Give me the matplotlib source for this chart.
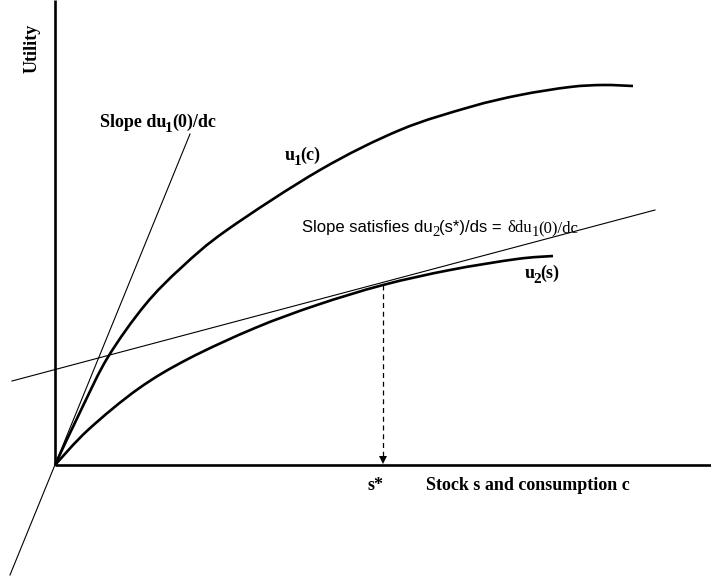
import matplotlib
matplotlib.use("Agg")
import matplotlib.pyplot as plt
from matplotlib.path import Path
from matplotlib.patches import PathPatch
from matplotlib.transforms import offset_copy

# ---- data (origin at the axes corner) ----
u1_x = [0, 27, 53, 90, 127, 172, 265, 345, 415, 465, 515, 548, 578]
u1_y = [0, 57, 108, 160, 198, 235, 295, 335, 358, 370, 378, 380, 379]

u2_x = [0, 33, 83, 133, 200, 262, 328, 395, 462, 498]
u2_y = [0, 35, 76, 106, 137, 160, 180, 195, 206, 209]

slope1_x = [-45, 135]
slope1_y = [-110, 331]

slope2_x = [-43, 600]
slope2_y = [84, 255]

s_star = 328
u2_at_s_star = 180

x_axis_end = 656
y_axis_end = 465

fig = plt.figure(figsize=(7.11, 5.82), dpi=100)
ax = fig.add_axes([0, 0, 1, 1])
ax.set_xlim(-55, 656)
ax.set_ylim(-117, 465)
ax.axis('off')


def smooth_path(xs, ys):
    """Catmull-Rom spline through the given points, drawn as cubic Beziers."""
    pts = list(zip(xs, ys))
    verts = [pts[0]]
    codes = [Path.MOVETO]
    n = len(pts)
    for i in range(n - 1):
        p0 = pts[i - 1] if i > 0 else pts[i]
        p1 = pts[i]
        p2 = pts[i + 1]
        p3 = pts[i + 2] if i + 2 < n else pts[i + 1]
        c1 = (p1[0] + (p2[0] - p0[0]) / 6.0, p1[1] + (p2[1] - p0[1]) / 6.0)
        c2 = (p2[0] - (p3[0] - p1[0]) / 6.0, p2[1] - (p3[1] - p1[1]) / 6.0)
        verts += [c1, c2, p2]
        codes += [Path.CURVE4] * 3
    return Path(verts, codes)


# axes
ax.plot([0, 0], [0, y_axis_end], color='black', lw=1.9, solid_capstyle='butt')
ax.plot([0, x_axis_end], [0, 0], color='black', lw=1.9, solid_capstyle='butt')

# thin tangent lines
ax.plot(slope1_x, slope1_y, color='black', lw=0.8)
ax.plot(slope2_x, slope2_y, color='black', lw=0.8)

# curves
for xs, ys in ((u1_x, u1_y), (u2_x, u2_y)):
    ax.add_patch(PathPatch(smooth_path(xs, ys), facecolor='none',
                           edgecolor='black', lw=1.9, capstyle='butt'))

# dashed drop line with arrow head
ax.plot([s_star, s_star], [u2_at_s_star, 6], color='black', lw=0.9, ls=(0, (4, 3)))
ax.plot([s_star], [5], marker='v', color='black', markersize=6, markeredgewidth=0)

SERIF = 'Liberation Serif'
SANS = 'Liberation Sans'
FS = 13

renderer = fig.canvas.get_renderer()


def rich(x, y, pieces):
    """pieces: (text, dy_points, gap_after_points, kwargs)"""
    dx = 0.0
    for s, dy, gap, kw in pieces:
        tr = offset_copy(ax.transData, fig=fig, x=dx, y=dy, units='points')
        t = ax.text(x, y, s, transform=tr, ha='left', va='baseline',
                    color='black', **kw)
        w = t.get_window_extent(renderer=renderer).width
        dx += w * 72.0 / fig.dpi + gap


sb = dict(family=SERIF, fontweight='bold', fontsize=FS)
sb_sub = dict(family=SERIF, fontweight='bold', fontsize=FS * 0.85)

ax.text(-23, 417, 'Utility', rotation=90, ha='center', va='center',
        color='black', **sb)

rich(45, 338, [('Slope du', 0, -1.0, sb), ('1', -3.5, -0.6, sb_sub),
               ('(0)/dc', 0, 0, sb)])
rich(230, 305, [('u', 0, -1.0, sb), ('1', -3.5, -0.6, sb_sub), ('(c)', 0, 0, sb)])
rich(470, 187, [('u', 0, -1.0, sb), ('2', -3.5, -0.6, sb_sub), ('(s)', 0, 0, sb)])
ax.text(313, -25, 's*', ha='left', va='baseline', color='black', **sb)
ax.text(371, -25, 'Stock s and consumption c', ha='left', va='baseline',
        color='black', **sb)

ss = dict(family=SANS, fontsize=12)
sr = dict(family=SERIF, fontsize=12)
sr_sub = dict(family=SERIF, fontsize=10.5)
rich(247, 233, [('Slope satisfies du', 0, -0.4, ss), ('2', -3.2, -0.3, sr_sub),
                ('(s*)/ds =', 0, 4.0, ss), ('δdu', 0, -0.4, sr),
                ('1', -3.2, -0.3, sr_sub), ('(0)/dc', 0, 0, sr)])

fig.savefig('out.png', dpi=100)
